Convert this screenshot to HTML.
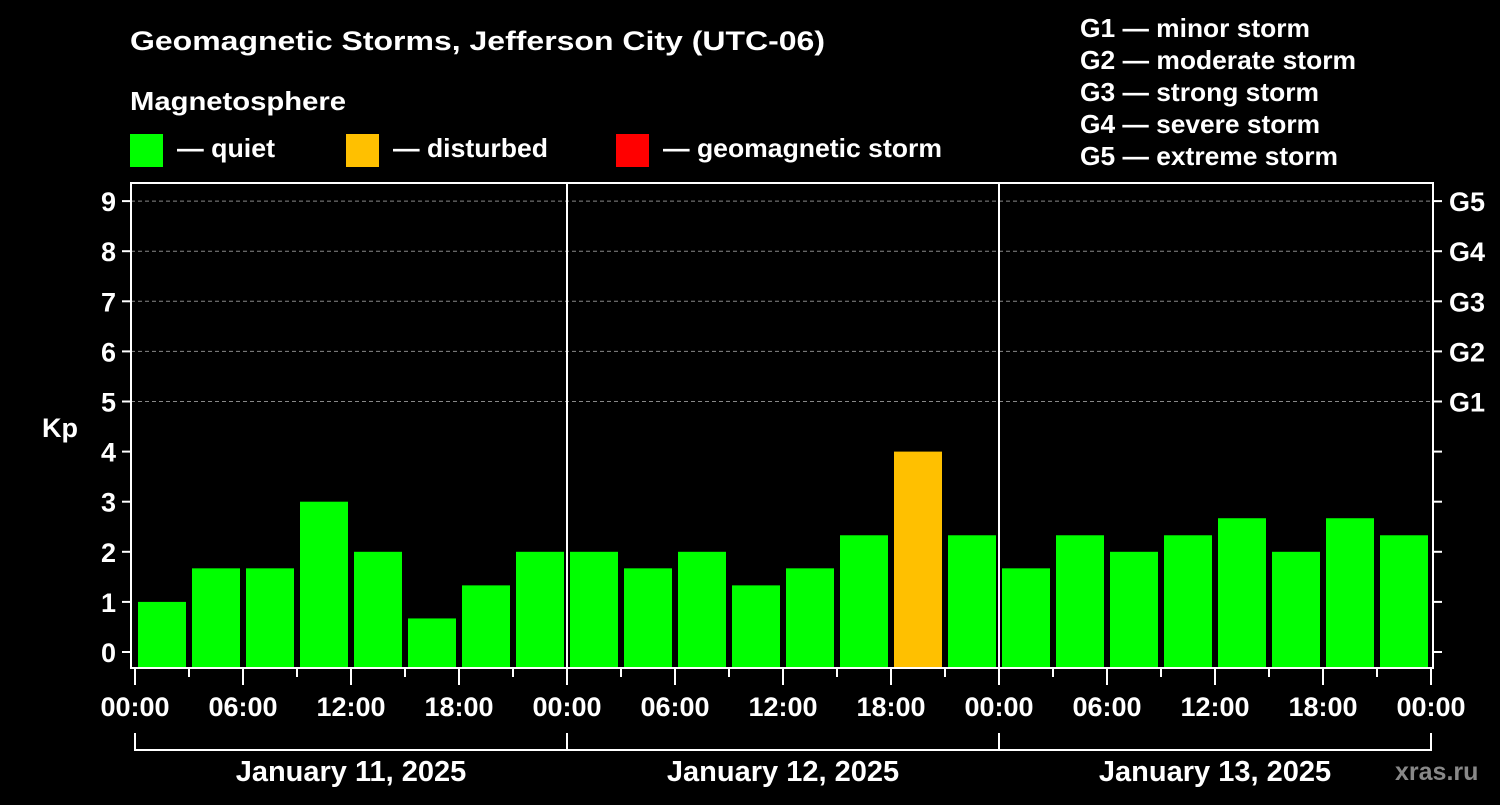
<!DOCTYPE html>
<html><head><meta charset="utf-8"><style>
body{margin:0;background:#000;}
svg text{font-family:"Liberation Sans",Arial,sans-serif;font-weight:bold;fill:#fff;}
</style></head><body>
<svg width="1500" height="800" xmlns="http://www.w3.org/2000/svg">
<rect width="1500" height="800" fill="#000"/>
<text x="130" y="50" font-size="27" textLength="695" lengthAdjust="spacingAndGlyphs">Geomagnetic Storms, Jefferson City (UTC-06)</text>
<text x="130" y="110" font-size="26" textLength="216" lengthAdjust="spacingAndGlyphs">Magnetosphere</text>
<rect x="130" y="134" width="33" height="33" fill="#00ff00"/>
<text x="177" y="157" font-size="26" textLength="98" lengthAdjust="spacingAndGlyphs">— quiet</text>
<rect x="346" y="134" width="33" height="33" fill="#ffc000"/>
<text x="393" y="157" font-size="26" textLength="155" lengthAdjust="spacingAndGlyphs">— disturbed</text>
<rect x="616" y="134" width="33" height="33" fill="#ff0000"/>
<text x="663" y="157" font-size="26" textLength="279" lengthAdjust="spacingAndGlyphs">— geomagnetic storm</text>
<g font-size="26">
<text x="1080" y="37" textLength="230" lengthAdjust="spacingAndGlyphs">G1 — minor storm</text>
<text x="1080" y="69" textLength="276" lengthAdjust="spacingAndGlyphs">G2 — moderate storm</text>
<text x="1080" y="101" textLength="239" lengthAdjust="spacingAndGlyphs">G3 — strong storm</text>
<text x="1080" y="133" textLength="240" lengthAdjust="spacingAndGlyphs">G4 — severe storm</text>
<text x="1080" y="165" textLength="258" lengthAdjust="spacingAndGlyphs">G5 — extreme storm</text>
</g>
<text x="42" y="437" font-size="27">Kp</text>
<g id="grid"></g>
<g id="bars"></g>
<g id="axes"></g>
<text x="1395" y="780" font-size="25" style="fill:#888">xras.ru</text>
</svg>
<script>
const kpValues=[1,1.67,1.67,3,2,0.67,1.33,2, 2,1.67,2,1.33,1.67,2.33,4,2.33, 1.67,2.33,2,2.33,2.67,2,2.67,2.33];
const dayLabels=["January 11, 2025","January 12, 2025","January 13, 2025"];
const hourLabels=["00:00","06:00","12:00","18:00"];
const yTicks=[0,1,2,3,4,5,6,7,8,9];
const gLabels=["G1","G2","G3","G4","G5"];
const NS="http://www.w3.org/2000/svg";
const x0=135,dayW=432,pLeft=131,pRight=1433,pTop=183,pBottom=668;
const y=v=>652-v*50.1;
const xh=h=>x0+h/24*dayW;
function mk(p,t,a){const e=document.createElementNS(NS,t);for(const k in a)e.setAttribute(k,a[k]);p.appendChild(e);return e;}
const grid=document.getElementById('grid'),bars=document.getElementById('bars'),axes=document.getElementById('axes');
for(let v=5;v<=9;v++){const l=mk(grid,'line',{x1:pLeft,x2:pRight,y1:y(v),y2:y(v),stroke:'#888','stroke-dasharray':'4,3','stroke-width':1});

}
kpValues.forEach((v,i)=>{const c=v>=5?'#ff0000':v>=4?'#ffc000':'#00ff00';
const r=mk(bars,'rect',{x:xh(i*3)+3,y:y(v),width:48,height:pBottom-y(v),fill:c});

});
const fr=mk(axes,'rect',{x:pLeft,y:pTop,width:pRight-pLeft,height:pBottom-pTop,fill:'none',stroke:'#fff','stroke-width':2});


for(let d=1;d<3;d++){const l=mk(axes,'line',{x1:xh(d*24),x2:xh(d*24),y1:pTop,y2:pBottom,stroke:'#fff','stroke-width':2});

}
yTicks.forEach(v=>{mk(axes,'line',{x1:122,x2:pLeft,y1:y(v),y2:y(v),stroke:'#fff','stroke-width':2});
mk(axes,'line',{x1:pRight,x2:1442,y1:y(v),y2:y(v),stroke:'#fff','stroke-width':2});
const t=mk(axes,'text',{x:116,y:y(v)+10,'font-size':27,'text-anchor':'end'});t.textContent=v;

});
gLabels.forEach((g,i)=>{const t=mk(axes,'text',{x:1449,y:y(5+i)+10,'font-size':27});t.textContent=g;

});
for(let h=0;h<=72;h+=3){const major=h%6===0;
mk(axes,'line',{x1:xh(h),x2:xh(h),y1:pBottom,y2:pBottom+(major?17:9),stroke:'#fff','stroke-width':2});
if(major){const t=mk(axes,'text',{x:xh(h),y:716,'font-size':27,'text-anchor':'middle'});t.textContent=hourLabels[(h/6)%4];

}}
mk(axes,'path',{d:`M${xh(0)},733V750H${xh(72)}V733M${xh(24)},733V750M${xh(48)},733V750`,fill:'none',stroke:'#fff','stroke-width':2});
dayLabels.forEach((d,i)=>{const t=mk(axes,'text',{x:xh(i*24+12),y:781,'font-size':29,'text-anchor':'middle'});t.textContent=d;

});
</script>
</body></html>
